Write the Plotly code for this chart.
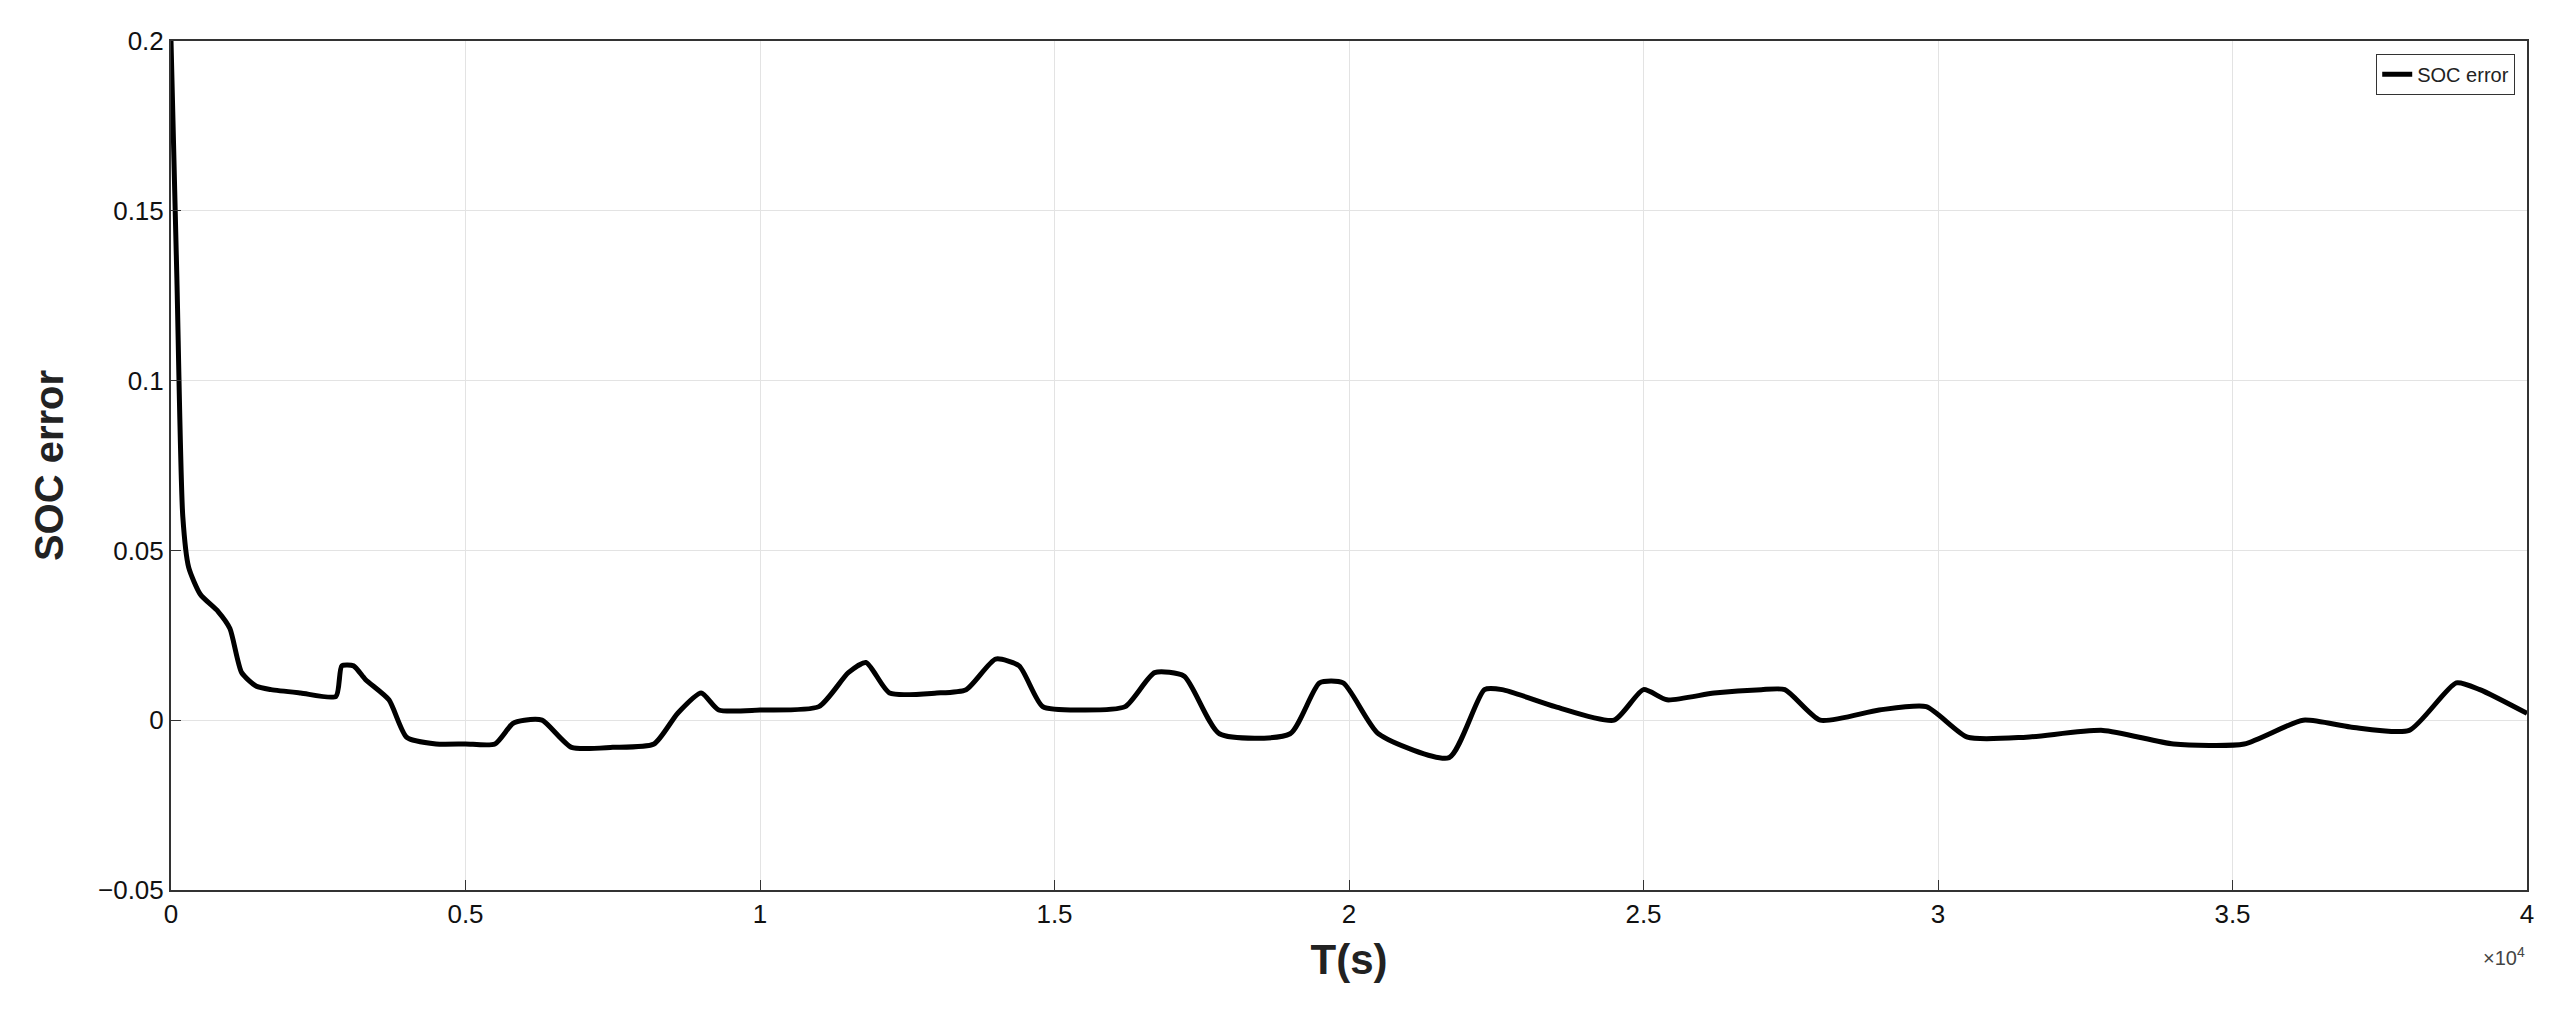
import plotly.graph_objects as go

# time (s) and SOC error
t = [0, 100, 200, 300, 500, 800, 1000, 1200, 1450, 1700, 2200, 2800, 2900, 3100, 3300, 3700, 4000,
     4500, 5000, 5500, 5800, 6000, 6300, 6800, 7500, 8200, 8600, 9000, 9300, 10000, 11000, 11500,
     11800, 12200, 13000, 13500, 14000, 14400, 14800, 15500, 16200, 16700, 17200, 17800, 19000,
     19500, 19900, 20500, 21700, 22300, 22600, 23500, 24500, 25000, 25400, 26200, 27000, 27400,
     28000, 29000, 29800, 30500, 31500, 32800, 34000, 35200, 36200, 37000, 38000, 38800, 39200, 40000]
soc_err = [0.2, 0.13, 0.06, 0.045, 0.037, 0.032, 0.027, 0.014, 0.010, 0.009, 0.008, 0.007, 0.016,
           0.016, 0.012, 0.006, -0.005, -0.007, -0.007, -0.007, -0.001, 0.0, 0.0, -0.008, -0.008,
           -0.007, 0.002, 0.008, 0.003, 0.003, 0.004, 0.014, 0.017, 0.008, 0.008, 0.009, 0.018, 0.016,
           0.004, 0.003, 0.004, 0.014, 0.013, -0.004, -0.004, 0.011, 0.011, -0.004, -0.011, 0.009,
           0.009, 0.004, 0.0, 0.009, 0.006, 0.008, 0.009, 0.009, 0.0, 0.003, 0.004, -0.005, -0.005,
           -0.003, -0.007, -0.007, 0.0, -0.002, -0.003, 0.011, 0.009, 0.002]

x_ticks = [0, 5000, 10000, 15000, 20000, 25000, 30000, 35000, 40000]
x_tick_labels = ["0", "0.5", "1", "1.5", "2", "2.5", "3", "3.5", "4"]
y_ticks = [-0.05, 0, 0.05, 0.1, 0.15, 0.2]
y_tick_labels = ["\u22120.05", "0", "0.05", "0.1", "0.15", "0.2"]

fig = go.Figure(go.Scatter(x=t, y=soc_err, mode="lines", name="SOC error",
                           line=dict(color="black", width=5, shape="spline", smoothing=0.6)))

axis_common = dict(showline=True, linecolor="#333", linewidth=2, mirror=True,
                   showgrid=True, gridcolor="#e3e3e3", zeroline=False,
                   ticks="inside", ticklen=10, tickcolor="#333",
                   tickfont=dict(family="Arial", size=26, color="#111"))

fig.update_layout(
    width=2553, height=1022,
    paper_bgcolor="white", plot_bgcolor="white",
    margin=dict(l=163, r=34, t=33, b=140),
    xaxis=dict(range=[0, 40000], tickvals=x_ticks, ticktext=x_tick_labels,
               title=dict(text="<b>T(s)</b>", font=dict(family="Arial", size=42, color="#222"), standoff=16),
               **axis_common),
    yaxis=dict(range=[-0.05, 0.2], tickvals=y_ticks, ticktext=y_tick_labels,
               title=dict(text="<b>SOC error</b>", font=dict(family="Arial", size=40, color="#222"), standoff=22),
               **axis_common),
    legend=dict(x=0.995, y=0.985, xanchor="right", yanchor="top",
                bordercolor="#333", borderwidth=1, bgcolor="white",
                font=dict(family="Arial", size=20, color="#222")),
    showlegend=True,
)

fig.add_annotation(x=1, y=0, xref="paper", yref="paper", xanchor="right", yanchor="top",
                   yshift=-52, showarrow=False,
                   text="\u00d710<sup>4</sup>", font=dict(family="Arial", size=20, color="#444"))

fig.write_html("out.html")
